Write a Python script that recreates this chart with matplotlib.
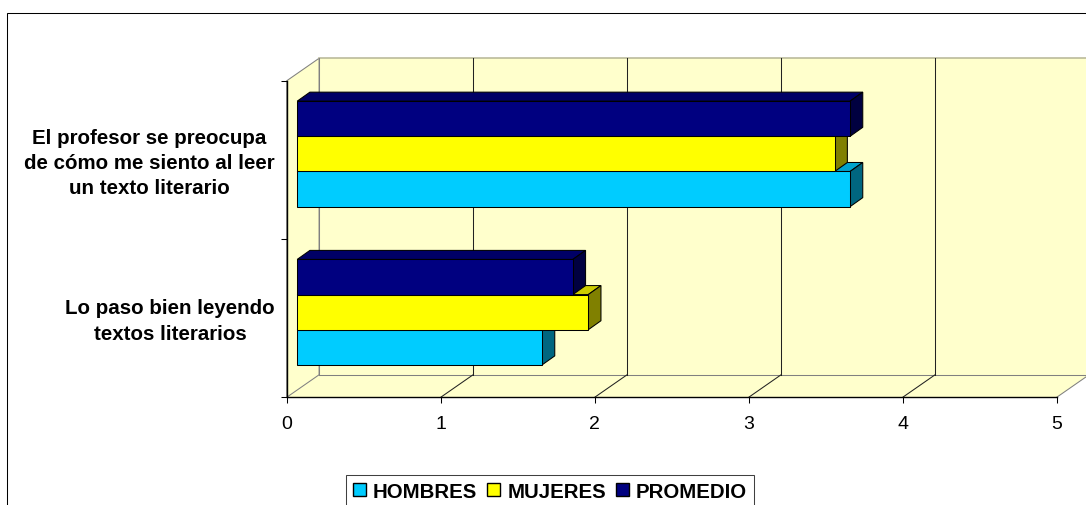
import matplotlib
matplotlib.use('Agg')
import matplotlib.pyplot as plt
from matplotlib.patches import Polygon, Patch, Rectangle

categorias = ['Lo paso bien leyendo\ntextos literarios',
              'El profesor se preocupa\nde cómo me siento al leer\nun texto literario']
hombres = [1.59, 3.59]
mujeres = [1.89, 3.49]
promedio = [1.79, 3.59]
valores_x = [0, 1, 2, 3, 4, 5]

plt.rcParams['font.family'] = ['Liberation Sans', 'DejaVu Sans']

W, H = 1086, 506
fig = plt.figure(figsize=(W / 100, H / 100), dpi=100, facecolor='white')
ax = fig.add_axes([286.7 / W, 1 - 398.3 / H, 770 / W, 316.5 / H])
ax.set_xlim(0, 5)
ax.set_ylim(0, 2)
ax.patch.set_visible(False)

# depth of the fake 3d box, data units
dx = 32.4 / 154
dy = 22.5 / 158
pared = '#FFFFCC'
lw = 0.75


def poly(pts, fc, ec='none', z=1):
    ax.add_patch(Polygon(pts, closed=True, facecolor=fc, edgecolor=ec,
                         linewidth=lw, clip_on=False, zorder=z))


# walls and floor
poly([(0, 0), (dx, dy), (dx, 2 + dy), (0, 2)], pared, '#808080')
poly([(dx, dy), (5 + dx, dy), (5 + dx, 2 + dy), (dx, 2 + dy)], pared, z=0.9)
poly([(0, 0), (5, 0), (5 + dx, dy), (dx, dy)], pared, z=0.9)
ax.plot([dx, 5 + dx], [2 + dy, 2 + dy], color='#B5B595', lw=1.1, clip_on=False, zorder=1.2)
ax.plot([dx, 5 + dx], [dy, dy], color='#808080', lw=lw, clip_on=False, zorder=1.2)
ax.plot([dx, dx], [dy, 2 + dy], color='#808080', lw=lw, clip_on=False, zorder=1.2)
for v in valores_x[1:-1]:
    ax.plot([v + dx, v + dx], [dy, 2 + dy], color='#222222', lw=lw, clip_on=False, zorder=1.2)
    ax.plot([v, v + dx], [0, dy], color='#222222', lw=lw, clip_on=False, zorder=1.2)
ax.plot([5, 5 + dx], [0, dy], color='#808080', lw=lw, clip_on=False, zorder=1.2)

# bars, bottom series first so the upper front faces hide its top
off_x = 10.5 / 154
off_y = 6 / 158
bx = 12.7 / 154
by = 9 / 158
alto = 1 / 4.5
series = [
    (hombres, 0, '#00CCFF', '#00A3CC', '#006680'),
    (mujeres, 1, '#FFFF00', '#CCCC00', '#808000'),
    (promedio, 2, '#000080', '#000066', '#000040'),
]
z = 2
for vals, pos, frente, arriba, lado in series:
    for i, v in enumerate(vals):
        y0 = i + 0.75 * alto + pos * alto + off_y
        x1 = off_x + v
        poly([(off_x, y0 + alto), (x1, y0 + alto), (x1 + bx, y0 + alto + by), (off_x + bx, y0 + alto + by)],
             arriba, 'black', z)
        poly([(x1, y0), (x1 + bx, y0 + by), (x1 + bx, y0 + alto + by), (x1, y0 + alto)], lado, 'black', z)
        ax.barh(y0 + alto / 2, v, height=alto, left=off_x, color=frente, edgecolor='black',
                linewidth=lw, clip_on=False, zorder=z + 0.1)
        z += 1

for s in ['top', 'right']:
    ax.spines[s].set_visible(False)
for s in ['left', 'bottom']:
    ax.spines[s].set_linewidth(1.0)
    ax.spines[s].set_color('black')
    ax.spines[s].set_zorder(30)

ax.set_xticks(valores_x)
ax.tick_params(axis='x', length=4.5, width=lw, labelsize=14, pad=8)
ax.set_yticks([0, 1, 2])
ax.set_yticklabels([])
ax.tick_params(axis='y', which='major', length=4.5, width=lw)
# slightly above the middle so the text blocks sit where they do in the chart
ax.set_yticks([0.517, 1.517], minor=True)
ax.set_yticklabels(categorias, minor=True, fontsize=14.8, fontweight='bold', multialignment='center',
                   linespacing=1.43)
ax.tick_params(axis='y', which='minor', length=0, pad=8.6)

# chart frame, runs off the bottom and right of the picture
fig.add_artist(Rectangle((7 / W, -0.1), 1.2, 1.1 - 13.5 / H, transform=fig.transFigure,
                         facecolor='none', edgecolor='black', linewidth=lw, zorder=-1))

handles = [Patch(facecolor='#00CCFF', edgecolor='black', label='HOMBRES'),
           Patch(facecolor='#FFFF00', edgecolor='black', label='MUJERES'),
           Patch(facecolor='#000080', edgecolor='black', label='PROMEDIO')]
leg = fig.legend(handles=handles, ncol=3, loc='upper left', bbox_to_anchor=(346 / W, 1 - 476 / H),
                 borderaxespad=0, fancybox=False, edgecolor='#404040', framealpha=1,
                 prop={'size': 14.7, 'weight': 'bold'}, handlelength=0.635, handleheight=0.635,
                 handletextpad=0.34, columnspacing=0.5, borderpad=0.34)
leg.get_frame().set_linewidth(lw)

fig.savefig('out.png', dpi=100)
